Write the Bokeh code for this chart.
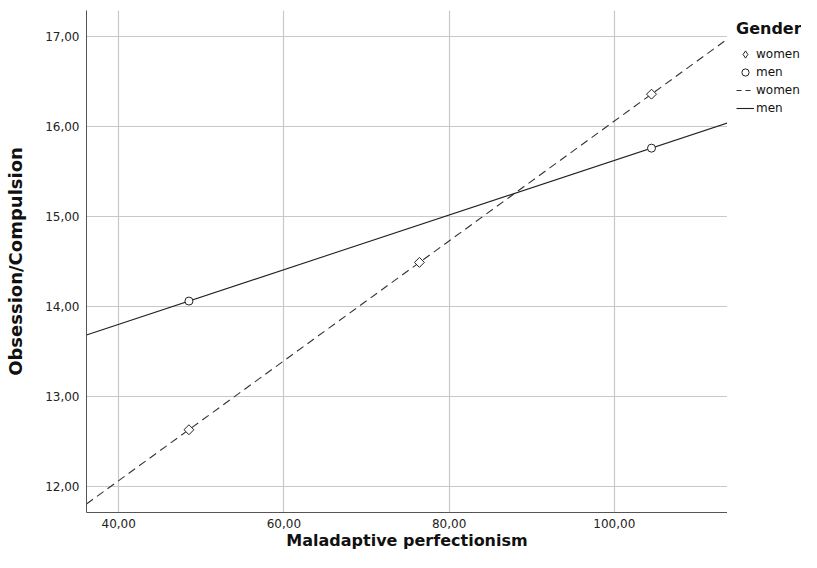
import numpy as np
from bokeh.plotting import figure
from bokeh.layouts import row
from bokeh.models import (Range1d, FixedTicker, CustomJSTickFormatter, Legend, LegendItem)
from bokeh.embed import file_html
from bokeh.resources import INLINE

# Data
women_x = [48.5, 76.4, 104.5]
women_y = [12.63, 14.49, 16.36]
men_x = [48.5, 104.5]
men_y = [14.06, 15.76]
x_ticks = [40, 60, 80, 100]
y_ticks = [12, 13, 14, 15, 16, 17]
x_limits = [36.1, 113.7]
y_limits = [11.71, 17.29]
legend_title = "Gender"
legend_labels = ["women", "men", "women", "men"]

FONT = "DejaVu Sans"
INK = "#222222"
H = 552
TOP = 10

p = figure(width=727, height=H, output_backend="svg", toolbar_location=None,
           x_range=Range1d(*x_limits), y_range=Range1d(*y_limits),
           min_border_left=86, min_border_right=0, min_border_top=TOP, min_border_bottom=39)
p.outline_line_color = None
p.background_fill_color = "white"

fmt = CustomJSTickFormatter(code="return tick.toFixed(2).replace('.', ',');")
for ax, ticks in ((p.xaxis, x_ticks), (p.yaxis, y_ticks)):
    ax.ticker = FixedTicker(ticks=ticks)
    ax.formatter = fmt
    ax.major_tick_line_color = None
    ax.minor_tick_line_color = None
    ax.major_tick_out = 0
    ax.major_tick_in = 0
    ax.minor_tick_out = 0
    ax.axis_line_color = "#555555"
    ax.major_label_text_font = FONT
    ax.major_label_text_font_size = "12px"
    ax.major_label_text_color = INK
    ax.axis_label_text_font = FONT
    ax.axis_label_text_font_style = "bold"
    ax.axis_label_text_color = "#111111"

p.xaxis.axis_label = "Maladaptive perfectionism"
p.yaxis.axis_label = "Obsession/Compulsion"
p.xaxis.axis_label_text_font_size = "16px"
p.yaxis.axis_label_text_font_size = "18px"
p.xaxis.major_label_standoff = 6
p.yaxis.major_label_standoff = 7
p.xaxis.axis_label_standoff = 0
p.yaxis.axis_label_standoff = 16

p.xgrid.grid_line_color = "#c8c8c8"
p.ygrid.grid_line_color = "#c8c8c8"
p.xgrid.grid_line_width = 1.2
p.ygrid.grid_line_width = 1.2

# Fit lines from the points
lx = np.array(x_limits)
wc = np.polyfit(women_x, women_y, 1)
mc = np.polyfit(men_x, men_y, 1)
p.line(lx, np.polyval(wc, lx), line_color="#333333", line_width=1.1, line_dash="8 5")
p.line(lx, np.polyval(mc, lx), line_color=INK, line_width=1.1)

p.scatter(women_x, women_y, marker="square", angle=np.pi / 4, size=7, fill_color="white",
          line_color=INK, line_width=1)
p.scatter(men_x, men_y, marker="circle", size=8, fill_color="white",
          line_color=INK, line_width=1)

# Legend panel: a separate figure to the right of the frame. Its ranges exclude the
# data, so its renderers only supply legend glyphs.
lp = figure(width=74, height=H, output_backend="svg", toolbar_location=None,
            min_border=0, min_border_top=TOP, x_axis_type=None, y_axis_type=None,
            x_range=Range1d(0, 1), y_range=Range1d(0, 1))
lp.outline_line_color = None
lp.grid.visible = False
l_ws = lp.scatter(women_x, women_y, marker="diamond", fill_color="white", line_color=INK, line_width=1)
l_ms = lp.scatter(men_x, men_y, marker="circle", fill_color="white", line_color=INK, line_width=1)
l_wl = lp.line(women_x, women_y, line_color="#333333", line_width=1.1, line_dash="5 4")
l_ml = lp.line(men_x, men_y, line_color=INK, line_width=1.1)

legend = Legend(items=[LegendItem(label=lab, renderers=[r])
                       for lab, r in zip(legend_labels, [l_ws, l_ms, l_wl, l_ml])],
                location="top_left")
legend.title = legend_title
legend.title_text_font = FONT
legend.title_text_font_style = "bold"
legend.title_text_font_size = "16px"
legend.title_text_color = "#111111"
legend.title_standoff = 7
legend.label_text_font = FONT
legend.label_text_font_size = "12px"
legend.label_text_color = "#111111"
legend.label_height = 18
legend.glyph_height = 18
legend.glyph_width = 18
legend.spacing = 0
legend.padding = 1
legend.margin = 9
legend.border_line_color = None
legend.background_fill_alpha = 0
legend.label_standoff = 2
lp.add_layout(legend, "center")

open("out.html", "w").write(file_html(row(p, lp), INLINE))
